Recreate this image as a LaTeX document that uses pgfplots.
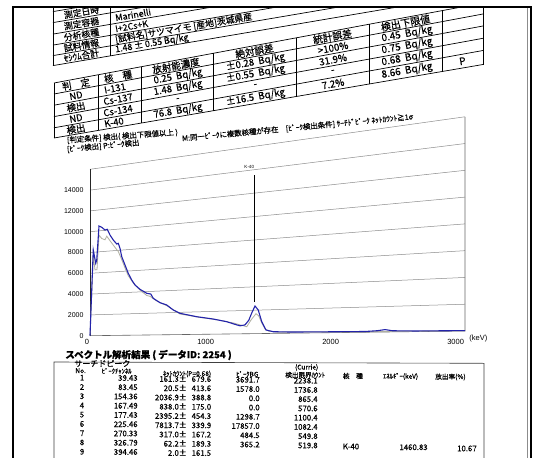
\documentclass[border=0pt]{standalone}
\usepackage{pgfplots}
\usepackage{pgfplotstable}
\pgfplotsset{compat=1.18}
\usepackage{fontspec}
\setmainfont{Liberation Sans}
\newfontfamily\jp[FakeBold=0.5]{Noto Sans CJK JP}
\definecolor{bl}{RGB}{35,35,170}
\definecolor{gr}{RGB}{175,175,160}
\definecolor{gridc}{RGB}{140,140,140}
% perspective of the scanned page: counts (v) -> plotted height (kcounts)
\newcommand\warp{(\thisrow{v}/1000)*(1+\thisrow{x}/10438)+\thisrow{x}/6637}
\newcommand\tf{\jp\fontsize{8.9}{10}\selectfont}
\newcommand\cf{\jp\fontsize{7.4}{8}\selectfont}
\newcommand\bt{\jp\fontsize{7.8}{8}\selectfont}
\newcommand\bh{\jp\fontsize{6.6}{7}\selectfont}
% results table cell: x, row centre at x=54, row slope, text
\newcommand\cell[4]{\pgfmathsetmacro\fs{9.3+(#1-54)/429*0.8}%
 \node[rotate={atan(#3)},inner sep=0pt,font=\jp\fontsize{\fs}{\fs}\selectfont] at (#1,{#2-#3*(#1-54)}) {#4};}
\newcommand\rH[2]{\cell{#1}{88.5}{0.1865}{#2}}
\newcommand\rA[2]{\cell{#1}{99.6}{0.1855}{#2}}
\newcommand\rB[2]{\cell{#1}{110.9}{0.1836}{#2}}
\newcommand\rC[2]{\cell{#1}{122.2}{0.1814}{#2}}
\newcommand\rD[2]{\cell{#1}{132.9}{0.1758}{#2}}
\newcommand\tcell[3]{\node[rotate=9.65,inner sep=0pt,font=\tf] at (#1,{#2-0.17*(#1-77)}) {#3};}
\newcommand\tval[3]{\node[rotate=9.65,inner sep=0pt,anchor=west,font=\tf] at (#1,{#2-0.17*(#1-77)}) {#3};}
\newcommand\brow[6]{%
 \node[font=\bt,inner sep=0pt] at (82,{377.7+9.25*(#1-1)}) {#1};
 \node[font=\bt,inner sep=0pt,anchor=east] at (138,{377.7+9.25*(#1-1)+0.3}) {#2};
 \node[font=\bt,inner sep=0pt,anchor=east] at (187,{377.7+9.25*(#1-1)+1.0}) {#3±};
 \node[font=\bt,inner sep=0pt,anchor=east] at (211.5,{377.7+9.25*(#1-1)+1.4}) {#4};
 \node[font=\bt,inner sep=0pt,anchor=east] at (260,{377.7+9.25*(#1-1)+2.1}) {#5};
 \node[font=\bt,inner sep=0pt,anchor=east] at (318,{377.7+9.25*(#1-1)+3.0}) {#6};}

\pgfplotstableread{
x v
0 0
26 8216
46 6925
54 7234
72 10465
94 10316
120 10030
138 10076
160 9513
186 9013
214 8609
226 8663
240 8179
254 7378
280 6579
306 5784
334 5142
360 4660
400 4238
454 3842
486 3761
506 3357
560 2931
614 2701
666 2229
720 1913
854 1570
984 1332
1094 1070
1150 860
1200 690
1240 760
1270 1150
1294 1768
1320 2358
1346 2009
1374 1007
1408 296
1466 143
1600 100
1800 80
2000 70
2200 60
2300 110
2360 190
2420 90
2600 50
2800 40
3000 30
}\bluedata

\pgfplotstableread{
x v
0 0
26 7700
40 6300
56 6300
72 9600
94 9250
120 9100
134 9430
160 8970
200 8300
226 7900
254 7100
280 6300
306 5560
346 4860
400 4160
454 3640
480 3550
534 3100
614 2640
720 1850
880 1500
1014 1260
1146 950
1254 600
1290 1200
1328 1700
1350 1500
1374 900
1400 400
1430 200
1500 100
2000 50
3000 20
}\graydata

\begin{document}
\begin{tikzpicture}
\fill[white] (0,0) rectangle (536pt,-458pt);
\begin{scope}
\clip (13pt,-7pt) rectangle (531pt,-458pt);
\begin{scope}[x=1pt,y=-1pt,line width=0.7pt]
 % ---- top table
 \foreach \b in {11.6,22.6,34.1,45.1,55.6,65.6} \draw (53,\b) -- (483,{\b-0.17*430});
 \draw (53,0) -- (53,65.6);
 \draw (110,0) -- (110,55.9);
 \tcell{81.5}{13}{測定日時}
 \tcell{81.5}{24.25}{測定容器}
 \tcell{81.5}{35.5}{分析核種}
 \tcell{81.5}{46.25}{試料情報}
 \tcell{81.5}{56.5}{ｾｼｳﾑ合計}
 \tval{115}{24.25}{Marinelli}
 \tval{115}{35.5}{I+2Cs+K}
 \tval{115}{46.25}{[試料名]サツマイモ [産地]茨城県産}
 \tval{115}{56.5}{1.48 ± 0.55 Bq/kg}
 % ---- results table (perspective grid)
 \foreach \l/\r in {83/3,94/14,105.2/26,116.6/38.3,127.8/50.5,138/64.5} \draw (54,\l) -- (483,\r);
 \foreach \c in {54,98.5,141,213,296,369,442,483} \draw (\c,{83-(\c-54)/429*80}) -- (\c,{138-(\c-54)/429*73.5});
 \rH{76}{判　定}
 \rH{118}{核　種}
 \rH{176}{放射能濃度}
 \rH{254.5}{絶対誤差}
 \rH{332.5}{統計誤差}
 \rH{405.5}{検出下限値}
 \rA{76}{ND}
 \rA{115}{I-131}
 \rA{178}{0.25\ \ Bq/kg}
 \rA{255.5}{±0.28\ \ Bq/kg}
 \rA{333}{>100\%}
 \rA{407}{0.45\ \ Bq/kg}
 \rB{76}{検出}
 \rB{118}{Cs-137}
 \rB{178}{1.48\ \ Bq/kg}
 \rB{255.5}{±0.55\ \ Bq/kg}
 \rB{333}{31.9\%}
 \rB{407}{0.75\ \ Bq/kg}
 \rC{76}{ND}
 \rC{118}{Cs-134}
 \rC{178}{-}
 \rC{255.5}{-}
 \rC{333}{-}
 \rC{407}{0.68\ \ Bq/kg}
 \rD{76}{検出}
 \rD{114}{K-40}
 \rD{178}{76.8\ \ Bq/kg}
 \rD{255.5}{±16.5\ \ Bq/kg}
 \rD{333}{7.2\%}
 \rD{407}{8.66\ \ Bq/kg}
 \rD{462.5}{P}
 % ---- conditions
 \node[rotate=4.2,anchor=west,inner sep=0pt,font=\cf] at (66.7,140.5) {[判定条件] 検出( 検出下限値以上 )};
 \node[rotate=5.4,anchor=west,inner sep=0pt,font=\cf] at (66.7,149.5) {[ﾋﾟｰｸ検出] P:ﾋﾟｰｸ検出\hspace{5.8em}M:同一ﾋﾟｰｸに複数核種が存在\quad [ﾋﾟｰｸ検出条件] ｻｰﾁﾄﾞﾋﾟｰｸ ﾈｯﾄｶｳﾝﾄ≧1σ};
 % ---- below chart
 \node[anchor=west,inner sep=0pt,font=\jp\bfseries\fontsize{9.5}{10}\selectfont] at (65,355) {スペクトル解析結果 ( データID: 2254 )};
 \node[anchor=west,inner sep=0pt,font=\fontsize{7.5}{8}\selectfont] at (469,339) {(keV)};
 \draw[line width=0.6pt,black!75] (54,470) -- (54,362) -- (484,363.3) -- (484,470);
 \node[anchor=west,inner sep=0pt,font=\jp\fontsize{8}{9}\selectfont] at (74,363.5) {サーチドピーク};
 \node[anchor=west,inner sep=0pt,font=\bh] at (75,370.7) {No.};
 \node[anchor=west,inner sep=0pt,font=\bh] at (101.5,371) {ﾋﾟｰｸﾁｬﾝﾈﾙ};
 \node[anchor=west,inner sep=0pt,font=\bh] at (162.6,374) {ﾈｯﾄｶｳﾝﾄ(P=0.68)};
 \node[anchor=west,inner sep=0pt,font=\bh] at (236,374) {ﾋﾟｰｸBG};
 \node[anchor=west,inner sep=0pt,font=\bh] at (294.7,367.5) {(Currie)};
 \node[anchor=west,inner sep=0pt,font=\bh] at (285,375) {検出限界ｶｳﾝﾄ};
 \node[anchor=west,inner sep=0pt,font=\bh] at (342.6,376) {核　種};
 \node[anchor=west,inner sep=0pt,font=\bh] at (382.7,376.5) {ｴﾈﾙｷﾞｰ(keV)};
 \node[anchor=west,inner sep=0pt,font=\bh] at (435,377) {放出率(\%)};
 \brow{1}{39.43}{161.3}{679.6}{3691.7}{2238.1}
 \brow{2}{83.45}{20.5}{413.6}{1578.0}{1736.8}
 \brow{3}{154.36}{2036.9}{388.8}{0.0}{865.4}
 \brow{4}{167.49}{838.0}{175.0}{0.0}{570.6}
 \brow{5}{177.43}{2395.2}{454.3}{1298.7}{1100.4}
 \brow{6}{225.46}{7813.7}{339.9}{17857.0}{1082.4}
 \brow{7}{270.33}{317.0}{167.2}{484.5}{549.8}
 \brow{8}{326.79}{62.2}{189.3}{365.2}{519.8}
 \brow{9}{394.46}{2.0}{161.5}{}{}
 \node[font=\bt,inner sep=0pt,anchor=west] at (342.6,446.5) {K-40};
 \node[font=\bt,inner sep=0pt,anchor=east] at (428,447.3) {1460.83};
 \node[font=\bt,inner sep=0pt,anchor=east] at (477,448.5) {10.67};
 \draw[black!45,line width=0.5pt] (527,7) -- (527,458);
\end{scope}
\begin{axis}[
  at={(90pt,-335.7pt)}, anchor=south west,
  scale only axis, width=375pt, height=219.44pt,
  xmin=0, xmax=3000, ymin=0, ymax=21.1,
  axis line style={draw=none}, tick style={draw=none}, major tick length=0pt,
  clip=false,
  xtick={0,1000,2000,3000}, xticklabels={0,1000,2000,3000},
  ytick={0,2,4,6,8,10,12,14}, yticklabels={0,2000,4000,6000,8000,10000,12000,14000},
  xticklabel style={font=\fontsize{7.5}{8}\selectfont, anchor=north east, xshift=2.5pt},
  yticklabel style={font=\fontsize{7}{8}\selectfont, anchor=east, xshift=-3pt},
  /pgf/number format/assume math mode=true,
]
\pgfplotsinvokeforeach{2000,4000,6000,8000,10000,12000,14000,16000}{
  \addplot[gridc, line width=0.5pt] table[row sep=\\, x=x, y expr=\warp] {x v\\ 0 #1\\ 3000 #1\\};
}
\addplot[black!60, line width=0.6pt] table[row sep=\\, x=x, y expr=\warp] {x v\\ 3000 16000\\ 3000 0\\ 0 0\\};
\addplot[black!85, line width=0.7pt] table[row sep=\\, x=x, y expr=\warp] {x v\\ 0 0\\ 0 16000\\};
\addplot[gr, line width=0.8pt] table[x=x, y expr=\warp] {\graydata};
\addplot[bl, line width=1.1pt] table[x=x, y expr=\warp] {\bluedata};
\addplot[black, line width=0.7pt] table[row sep=\\, x=x, y expr=\warp] {x v\\ 1312 2730\\ 1312 13560\\};
\node[inner sep=0pt, font=\fontsize{4.5}{5}\selectfont] at (axis cs:1274,16.25) {K-40};
\end{axis}
\end{scope}
\draw[line width=2pt] (13pt,-458pt) -- (13pt,-7pt) -- (531pt,-7pt) -- (531pt,-458pt);
\pgfresetboundingbox
\useasboundingbox (0,0) rectangle (536pt,-458pt);
\end{tikzpicture}
\end{document}
